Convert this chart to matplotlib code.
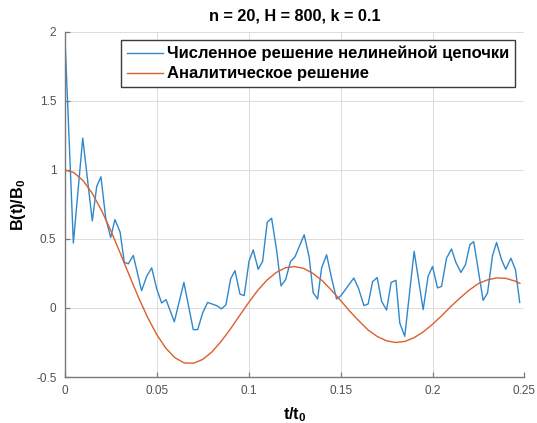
# -*- coding: utf-8 -*-
import matplotlib
matplotlib.use('Agg')
import matplotlib.pyplot as plt

plt.rcParams['font.family'] = ['Liberation Sans', 'DejaVu Sans']
plt.rcParams['axes.unicode_minus'] = False
plt.rcParams['mathtext.fontset'] = 'custom'
plt.rcParams['mathtext.rm'] = 'Liberation Sans'
plt.rcParams['mathtext.bf'] = 'Liberation Sans:bold'

## численное решение (вершины ломаной)
t_num = [0, 0.0047, 0.0098, 0.0150, 0.0174, 0.0197, 0.0223, 0.0250, 0.0273, 0.0301,
         0.0324, 0.0346, 0.0373, 0.0418, 0.0446, 0.0473, 0.0500, 0.0527, 0.0551, 0.0596,
         0.0648, 0.0699, 0.0723, 0.0750, 0.0777, 0.0826, 0.0853, 0.0877, 0.0902, 0.0926,
         0.0953, 0.0976, 0.1002, 0.1025, 0.1052, 0.1076, 0.1101, 0.1125, 0.1152, 0.1176,
         0.1201, 0.1228, 0.1252, 0.1302, 0.1329, 0.1351, 0.1375, 0.1397, 0.1424, 0.1451,
         0.1478, 0.1502, 0.1572, 0.1598, 0.1627, 0.1650, 0.1674, 0.1699, 0.1723, 0.1750,
         0.1775, 0.1801, 0.1822, 0.1849, 0.1900, 0.1949, 0.1976, 0.2000, 0.2027, 0.2049,
         0.2076, 0.2103, 0.2127, 0.2154, 0.2179, 0.2203, 0.2224, 0.2275, 0.2299, 0.2326,
         0.2348, 0.2375, 0.2398, 0.2426, 0.2451, 0.2474]
b_num = [2.0, 0.47, 1.23, 0.63, 0.88, 0.95, 0.65, 0.51, 0.64, 0.55,
         0.33, 0.32, 0.38, 0.125, 0.23, 0.29, 0.14, 0.036, 0.06, -0.10,
         0.185, -0.157, -0.157, -0.036, 0.04, 0.017, -0.007, 0.024, 0.21, 0.27,
         0.10, 0.09, 0.337, 0.42, 0.28, 0.337, 0.62, 0.65, 0.42, 0.16,
         0.205, 0.337, 0.37, 0.53, 0.37, 0.11, 0.065, 0.29, 0.385, 0.217,
         0.065, 0.089, 0.217, 0.14, 0.017, 0.029, 0.19, 0.22, 0.048, -0.015,
         0.185, 0.2, -0.11, -0.205, 0.41, -0.012, 0.23, 0.30, 0.145, 0.156,
         0.36, 0.427, 0.33, 0.257, 0.313, 0.458, 0.48, 0.055, 0.108, 0.378,
         0.474, 0.35, 0.28, 0.36, 0.277, 0.04]

## аналитическое решение
t_ana = [0, 0.005, 0.01, 0.015, 0.02, 0.025, 0.03, 0.035, 0.04, 0.045,
         0.05, 0.055, 0.06, 0.065, 0.07, 0.075, 0.08, 0.085, 0.09, 0.095,
         0.1, 0.105, 0.11, 0.115, 0.12, 0.125, 0.13, 0.135, 0.14, 0.145,
         0.15, 0.155, 0.16, 0.165, 0.17, 0.175, 0.18, 0.185, 0.19, 0.195,
         0.2, 0.205, 0.21, 0.215, 0.22, 0.225, 0.23, 0.235, 0.24, 0.245, 0.2475]
b_ana = [1.0, 0.980, 0.922, 0.829, 0.707, 0.562, 0.403, 0.240, 0.080, -0.066,
         -0.192, -0.292, -0.361, -0.398, -0.400, -0.373, -0.319, -0.243, -0.154, -0.057,
         0.039, 0.128, 0.202, 0.257, 0.291, 0.300, 0.286, 0.250, 0.198, 0.129,
         0.055, -0.024, -0.094, -0.160, -0.207, -0.238, -0.250, -0.242, -0.215, -0.173,
         -0.118, -0.056, 0.011, 0.073, 0.130, 0.177, 0.204, 0.218, 0.214, 0.194, 0.178]

x_ticks = [0, 0.05, 0.1, 0.15, 0.2, 0.25]
x_labels = ['0', '0.05', '0.1', '0.15', '0.2', '0.25']
y_ticks = [-0.5, 0, 0.5, 1, 1.5, 2]
y_labels = ['-0.5', '0', '0.5', '1', '1.5', '2']
names = ['Численное решение нелинейной цепочки', 'Аналитическое решение']

fig = plt.figure(figsize=(5.37, 4.23), dpi=100)  ## холст
ax = fig.add_axes([0.1205, 0.1087, 0.8562, 0.8163])

ax.plot(t_num, b_num, color='#2f88cc', lw=1.0, label=names[0])
ax.plot(t_ana, b_ana, color='#dc5f2c', lw=1.0, label=names[1])

ax.set_xlim(0, 0.25)
ax.set_ylim(-0.5, 2)
ax.set_xticks(x_ticks)
ax.set_xticklabels(x_labels)
ax.set_yticks(y_ticks)
ax.set_yticklabels(y_labels)
ax.grid(True, color='#dcdcdc', lw=0.7)
ax.set_axisbelow(True)

for s in ['top', 'right']:
    ax.spines[s].set_visible(False)
for s in ['left', 'bottom']:
    ax.spines[s].set_color('#7a7a7a')
    ax.spines[s].set_linewidth(1.0)
ax.tick_params(direction='in', length=3.5, width=0.9, colors='#7a7a7a',
               labelcolor='#505050', labelsize=8.5, pad=6)

ax.set_title('n = 20, H = 800, k = 0.1', fontsize=11.7, fontweight='bold', pad=8)
ax.set_xlabel('t/t$_\\mathbf{0}$', fontsize=11.7, fontweight='bold', labelpad=6)
ax.set_ylabel('B(t)/B$_\\mathbf{0}$', fontsize=11.7, fontweight='bold', labelpad=6)

leg = ax.legend(loc='upper right', bbox_to_anchor=(0.979, 0.976),
                prop={'size': 12.0, 'weight': 'bold'}, fancybox=False,
                framealpha=1, edgecolor='#3c3c3c', handlelength=2.2,
                handletextpad=0.2, borderpad=0.35, labelspacing=0.3,
                borderaxespad=0)
leg.get_frame().set_linewidth(1.0)

plt.savefig('out.png', dpi=100)
